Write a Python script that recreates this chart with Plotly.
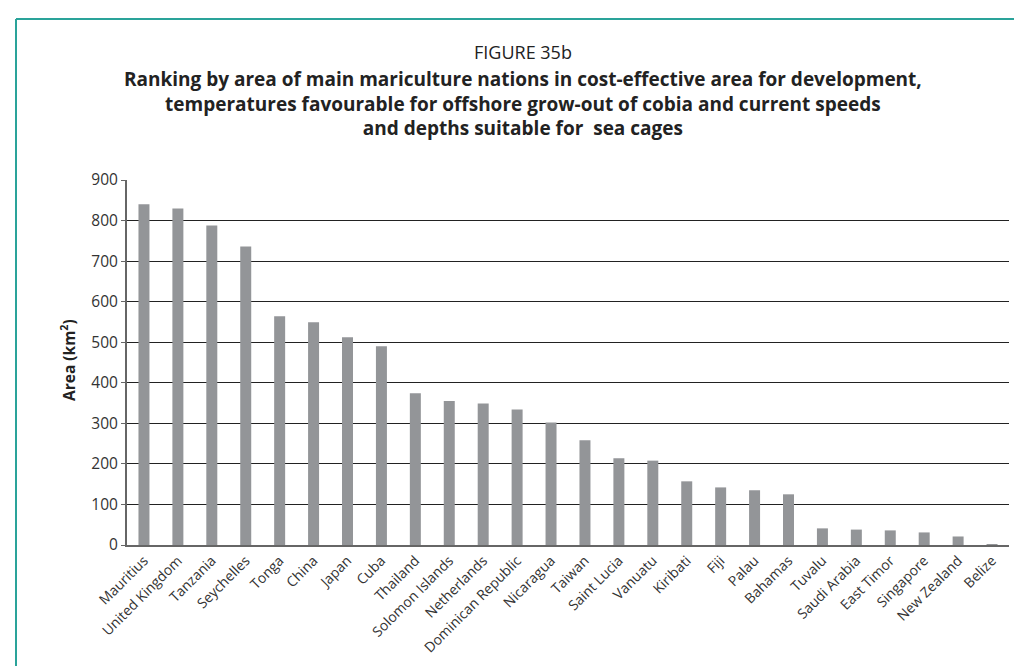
import plotly.graph_objects as go

countries = ["Mauritius", "United Kingdom", "Tanzania", "Seychelles", "Tonga", "China",
             "Japan", "Cuba", "Thailand", "Solomon Islands", "Netherlands",
             "Dominican Republic", "Nicaragua", "Taiwan", "Saint Lucia", "Vanuatu",
             "Kiribati", "Fiji", "Palau", "Bahamas", "Tuvalu", "Saudi Arabia",
             "East Timor", "Singapore", "New Zealand", "Belize"]
area_km2 = [840, 830, 788, 736, 564, 549, 512, 490, 374, 355, 349, 334, 302,
            258, 214, 208, 157, 142, 135, 125, 41, 38, 36, 31, 21, 2]
y_ticks = [0, 100, 200, 300, 400, 500, 600, 700, 800, 900]

FONT = "Open Sans"
TXT = "#333333"
TEAL = "#2aa39a"

fig = go.Figure(go.Bar(x=countries, y=area_km2, marker=dict(color="#939598", line=dict(width=0))))

L, R, T, B = 119, 1001, 172, 537
W, H = R - L, B - T

def px(x):
    return (x - L) / W

def py(y):
    return (B - y) / H

fig.update_layout(
    width=1022, height=666,
    margin=dict(l=L, r=1022 - R, t=T, b=666 - B),
    paper_bgcolor="white", plot_bgcolor="white",
    showlegend=False,
    bargap=0.676,
    font=dict(family=FONT, color=TXT),
)
fig.update_yaxes(
    range=[0, 900], tickvals=y_ticks, ticks="outside", ticklen=4, tickcolor="#666",
    showline=True, linecolor="#666", linewidth=2,
    showgrid=True, gridcolor="#222", gridwidth=1, zeroline=False,
    tickfont=dict(family=FONT, size=15.5, color=TXT),
)
fig.update_xaxes(
    showline=True, linecolor="#666", linewidth=2, ticks="", tickangle=-45,
    tickfont=dict(family=FONT, size=14, color=TXT),
)

fig.add_annotation(
    text="FIGURE 35b",
    x=px(515), y=py(44), xref="paper", yref="paper",
    xanchor="center", yanchor="middle", showarrow=False,
    font=dict(family=FONT, size=18, color="#222"),
)
fig.add_annotation(
    text=("<b>Ranking by area of main mariculture nations in cost-effective area for development,<br>"
          "temperatures favourable for offshore grow-out of cobia and current speeds<br>"
          "and depths suitable for  sea cages</b>"),
    x=px(515), y=py(96), xref="paper", yref="paper",
    xanchor="center", yanchor="middle", showarrow=False, align="center",
    font=dict(family=FONT, size=19, color="#222"),
)

fig.add_annotation(
    text="<b>Area (km<sup>2</sup>)</b>", textangle=-90,
    x=px(60), y=py(352), xref="paper", yref="paper",
    xanchor="center", yanchor="middle", showarrow=False,
    font=dict(family=FONT, size=15.5, color="#222"),
)

# page frame (teal)
fig.add_shape(type="line", xref="paper", yref="paper",
              x0=px(8), x1=px(1030), y0=py(11), y1=py(11),
              line=dict(color=TEAL, width=2))
fig.add_shape(type="line", xref="paper", yref="paper",
              x0=px(8), x1=px(8), y0=py(11), y1=py(680),
              line=dict(color=TEAL, width=2))

fig.write_html("out.html")
